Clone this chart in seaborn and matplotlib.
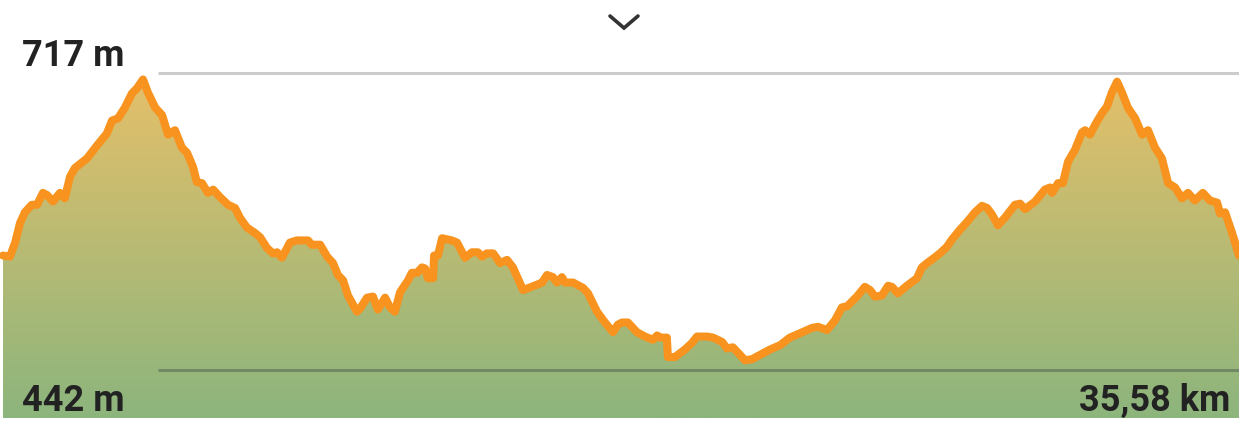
import numpy as np
import matplotlib
matplotlib.use("Agg")
import matplotlib.pyplot as plt
import seaborn as sns
from matplotlib.colors import LinearSegmentedColormap

# --- elevation profile (km, m) ---
distance_km = [
    0.00, 0.20, 0.35, 0.49, 0.63, 0.83, 0.98, 1.15, 1.27, 1.44, 1.64, 1.78, 1.93, 2.07,
    2.42, 2.71, 2.99, 3.14, 3.31, 3.51, 3.71, 3.86, 4.03, 4.17, 4.38, 4.58, 4.75, 4.95,
    5.15, 5.30, 5.47, 5.58, 5.73, 5.90, 6.05, 6.25, 6.48, 6.68, 6.82, 7.02, 7.25, 7.40,
    7.60, 7.77, 7.89, 8.03, 8.26, 8.46, 8.78, 8.89, 9.13, 9.33, 9.50, 9.64, 9.79, 9.93,
    10.05, 10.19, 10.28, 10.48, 10.65, 10.79, 11.00, 11.14, 11.28, 11.43, 11.66, 11.77,
    11.92, 12.06, 12.15, 12.23, 12.38, 12.41, 12.52, 12.64, 12.92, 13.07, 13.30, 13.50,
    13.67, 13.79, 13.93, 14.11, 14.31, 14.51, 14.68, 14.97, 15.37, 15.52, 15.66, 15.83,
    15.95, 16.09, 16.18, 16.41, 16.70, 16.84, 17.10, 17.33, 17.56, 17.70, 17.82, 17.99,
    18.25, 18.48, 18.71, 18.83, 18.91, 19.11, 19.14, 19.34, 19.63, 19.83, 19.98, 20.27,
    20.44, 20.70, 20.84, 21.01, 21.16, 21.36, 21.56, 21.79, 22.08, 22.37, 22.65, 22.94,
    23.29, 23.46, 23.72, 23.95, 24.15, 24.30, 24.58, 24.81, 24.96, 25.10, 25.30, 25.48,
    25.59, 25.76, 26.02, 26.31, 26.45, 26.60, 26.77, 26.97, 27.17, 27.32, 27.55, 27.75,
    27.98, 28.18, 28.33, 28.47, 28.64, 28.84, 29.13, 29.28, 29.42, 29.71, 29.99, 30.14,
    30.20, 30.37, 30.51, 30.66, 30.86, 31.06, 31.15, 31.29, 31.49, 31.64, 31.78, 31.92,
    32.07, 32.21, 32.38, 32.59, 32.79, 32.96, 33.16, 33.36, 33.54, 33.74, 33.94, 34.11,
    34.31, 34.54, 34.74, 34.95, 35.03, 35.18, 35.38, 35.58,
]
elevation_m = [
    548, 547, 560, 578, 588, 595, 595, 606, 604, 598, 606, 601, 621, 629,
    638, 650, 661, 673, 675, 685, 698, 703, 711, 699, 685, 678, 660, 664,
    648, 643, 630, 616, 615, 606, 609, 602, 595, 592, 583, 574, 569, 565,
    555, 550, 551, 546, 560, 562, 562, 558, 558, 547, 541, 530, 525, 511,
    504, 496, 499, 509, 510, 498, 509, 500, 496, 514, 525, 532,
    532, 537, 536, 527, 527, 548, 548, 564, 562, 560, 546, 551,
    551, 547, 550, 550, 541, 544, 537, 516, 521, 523, 530, 528,
    523, 528, 523, 523, 518, 513, 496, 486, 477, 484, 486, 486,
    477, 473, 470, 474, 472, 472, 454, 454, 461, 467, 473, 473,
    472, 468, 462, 463, 458, 451, 452, 456, 461, 465, 472, 476,
    481, 482, 479, 488, 500, 501, 510, 519, 516, 510, 511, 520,
    519, 513, 520, 527, 537, 541, 545, 550, 556, 563, 572, 579,
    588, 594, 592, 586, 576, 583, 595, 596, 591, 598, 609, 611,
    606, 615, 615, 635, 646, 662, 664, 660, 672, 680, 686, 699,
    709, 699, 685, 675, 660, 664, 648, 638, 615, 611, 601, 606,
    599, 606, 599, 597, 587, 588, 569, 548,
]

max_label = "717 m"
min_label = "442 m"
total_label = "35,58 km"
max_elev = 717
min_elev = 442

# --- figure ---
sns.set_theme(style="white")
plt.rcParams['font.family'] = ['Roboto', 'DejaVu Sans']

fig = plt.figure(figsize=(12.39, 4.21), dpi=100)
ax = fig.add_axes([0, 0, 1, 1])
x_left, x_right = -0.086, 35.58
y_bottom, y_top = 394.8, 784.6
ax.set_xlim(x_left, x_right)
ax.set_ylim(y_bottom, y_top)
ax.axis('off')

# gradient area under the profile
fill_floor = 397.5
cmap = LinearSegmentedColormap.from_list("elev", ["#8cb57d", "#e6c06a"])
grad = np.linspace(0, 1, 256).reshape(-1, 1)
im = ax.imshow(grad, cmap=cmap, aspect='auto', origin='lower',
               extent=[0, x_right, fill_floor, max_elev], zorder=1)
poly = ax.fill_between(distance_km, elevation_m, fill_floor, facecolor='none', edgecolor='none')
im.set_clip_path(poly.get_paths()[0], transform=ax.transData)

# reference lines for max / min
x_line_start = 4.46
ax.plot([x_line_start, x_right], [max_elev, max_elev], color='#cccccc', lw=2.2, zorder=0.5,
        solid_capstyle='butt')
ax.plot([x_line_start, x_right], [min_elev, min_elev], color='#728a63', lw=2.2, zorder=3,
        solid_capstyle='butt')

# profile line
sns.lineplot(x=distance_km, y=elevation_m, color='#f7931e', linewidth=5.8, estimator=None,
             sort=False, ax=ax, zorder=4, solid_joinstyle='round', solid_capstyle='round')

# labels
ax.text(22 / 1239, 1 - 66 / 421, max_label, transform=ax.transAxes, fontsize=26,
        fontweight='bold', color='#222222', ha='left', va='baseline')
ax.text(22 / 1239, 1 - 411 / 421, min_label, transform=ax.transAxes, fontsize=26,
        fontweight='bold', color='#222222', ha='left', va='baseline', zorder=5)
ax.text(1230 / 1239, 1 - 411 / 421, total_label, transform=ax.transAxes, fontsize=26,
        fontweight='bold', color='#222222', ha='right', va='baseline', zorder=5)

# collapse chevron at the top
fig.add_artist(plt.Line2D([610 / 1239, 624 / 1239, 638 / 1239],
                          [1 - 16 / 421, 1 - 28 / 421, 1 - 16 / 421],
                          color='#333333', lw=2.6, solid_joinstyle='miter'))

fig.savefig("out.png", dpi=100)
